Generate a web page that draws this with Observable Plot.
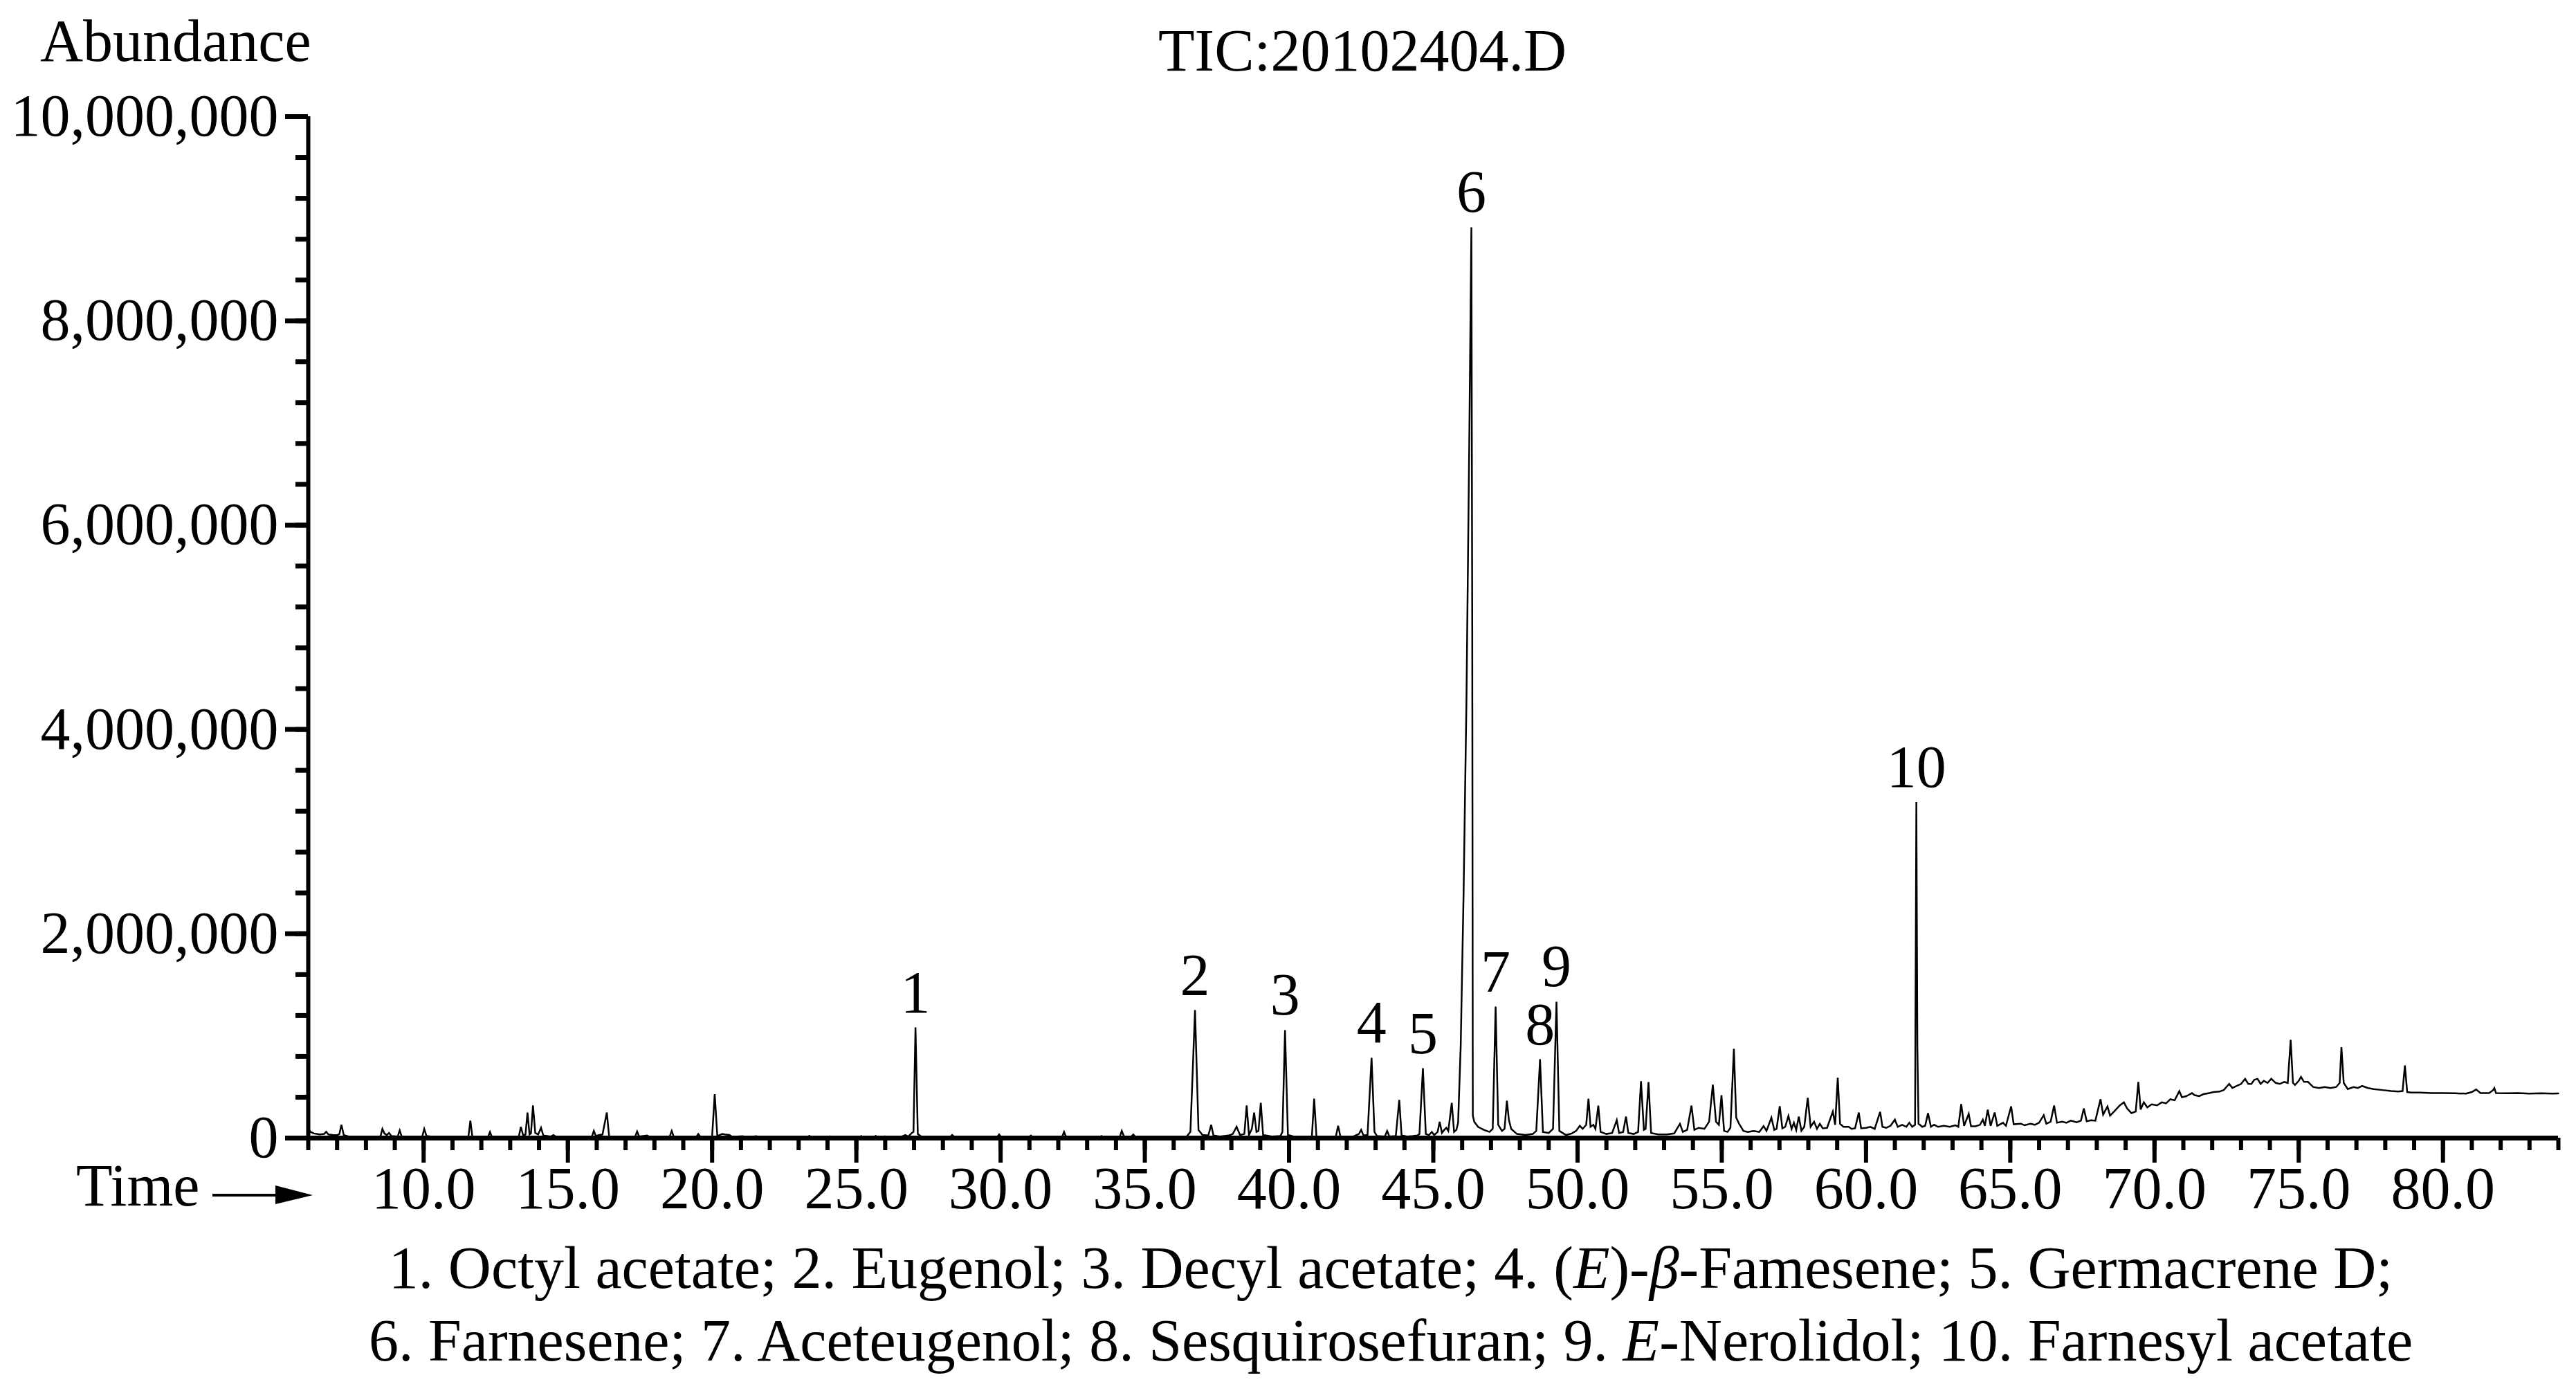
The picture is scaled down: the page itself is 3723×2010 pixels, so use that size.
<!DOCTYPE html>
<html>
<head>
<meta charset="utf-8">
<script src="https://cdn.jsdelivr.net/npm/d3@7"></script>
<script src="https://cdn.jsdelivr.net/npm/@observablehq/plot@0.6"></script>
<style>
  html, body { margin: 0; padding: 0; background: #fff; }
  #page { position: relative; width: 3723px; height: 2010px; overflow: hidden; font-family: "Liberation Serif", "Times New Roman", serif; color: #000; }
  #page svg.plot { position: absolute; left: 0; top: 0; }
  .txt { position: absolute; font-size: 86px; line-height: 86px; white-space: nowrap; }
  .cap { position: absolute; left: 0; width: 4020px; text-align: center; font-size: 86px; line-height: 105px; white-space: nowrap; }
</style>
</head>
<body>
<div id="page">
  <div class="txt" style="left:58px; top:16px;">Abundance</div>
  <div class="txt" style="left:0; width:3938px; text-align:center; top:30px;">TIC:20102404.D</div>
  <div class="txt" style="left:110px; top:1670px;">Time</div>
  <svg style="position:absolute; left:300px; top:1700px;" width="160" height="60">
    <line x1="7" y1="27" x2="100" y2="27" stroke="#000" stroke-width="4"/>
    <polygon points="98,13 152,27 98,40" fill="#000"/>
  </svg>
  <div class="cap" style="top:1780px;">
    1. Octyl acetate; 2. Eugenol; 3. Decyl acetate; 4. (<i>E</i>)-<i>β</i>-Famesene; 5. Germacrene D;<br>
    6. Farnesene; 7. Aceteugenol; 8. Sesquirosefuran; 9. <i>E</i>-Nerolidol; 10. Farnesyl acetate
  </div>
</div>
<script>
// ---- Data: [retention time (min), abundance] ----
const traceEarly = [
  [6.00, 95000], [6.08, 60000], [6.2, 45000], [6.4, 35000], [6.55, 40000], [6.62, 62000], [6.7, 35000],
  [6.85, 30000], [7.0, 28000], [7.08, 40000], [7.15, 130000], [7.23, 30000], [7.4, 15000], [7.7, 12000],
  [8.1, 10000], [8.5, 12000], [8.57, 90000], [8.64, 45000], [8.72, 30000], [8.8, 50000], [8.88, 20000],
  [9.1, 15000], [9.17, 75000], [9.24, 15000], [9.6, 10000], [9.95, 12000], [10.02, 90000], [10.1, 20000],
  [10.4, 10000], [11.0, 8000], [11.55, 10000], [11.62, 170000], [11.69, 10000], [12.23, 8000], [12.3, 60000],
  [12.37, 8000], [13.0, 10000], [13.3, 15000], [13.37, 110000], [13.45, 25000], [13.53, 35000], [13.6, 250000],
  [13.67, 35000], [13.72, 45000], [13.79, 320000], [13.87, 50000], [13.97, 35000], [14.07, 100000], [14.15, 25000],
  [14.4, 15000], [14.5, 30000], [14.6, 12000], [15.3, 8000], [15.83, 12000], [15.9, 70000], [15.97, 20000],
  [16.1, 30000], [16.2, 35000], [16.35, 250000], [16.43, 15000], [16.9, 10000], [17.33, 12000], [17.4, 65000],
  [17.47, 15000], [17.75, 25000], [17.85, 10000], [18.2, 12000], [18.53, 15000], [18.6, 70000], [18.67, 12000],
  [19.0, 10000], [19.45, 10000], [19.52, 40000], [19.6, 10000], [20.0, 15000], [20.09, 430000], [20.18, 20000],
  [20.35, 40000], [20.44, 35000], [20.6, 30000], [20.7, 12000], [21.06, 18000], [21.15, 8000], [21.54, 18000],
  [21.62, 8000], [23.3, 8000], [23.37, 22000], [23.45, 8000], [24.03, 8000], [24.09, 18000], [24.16, 8000],
  [25.12, 8000], [25.17, 20000], [25.24, 8000], [25.62, 8000], [25.67, 22000], [25.74, 8000], [25.92, 8000],
  [25.98, 18000], [26.05, 8000], [26.55, 12000], [26.7, 30000], [26.8, 15000], [26.92, 50000], [26.98, 60000],
  [27.05, 1084000], [27.13, 40000], [27.25, 15000]
];
const traceMid = [
  [27.4, 10000], [28.0, 8000], [28.25, 10000], [28.32, 30000], [28.4, 10000], [29.88, 10000], [29.95, 35000],
  [30.02, 10000], [30.98, 8000], [31.05, 25000], [31.12, 8000], [32.13, 10000], [32.2, 60000], [32.27, 10000],
  [33.43, 8000], [33.5, 20000], [33.57, 8000], [34.13, 10000], [34.2, 70000], [34.28, 15000], [34.52, 12000],
  [34.6, 35000], [34.68, 10000], [35.5, 6000], [36.2, 8000], [36.45, 15000], [36.58, 60000], [36.74, 1253000],
  [36.86, 80000], [37.0, 30000], [37.2, 25000], [37.3, 130000], [37.38, 25000], [37.6, 15000], [37.9, 25000],
  [38.05, 40000], [38.18, 110000], [38.3, 30000], [38.45, 40000], [38.53, 320000], [38.61, 30000], [38.71, 90000],
  [38.79, 250000], [38.87, 60000], [38.94, 70000], [39.02, 345000], [39.1, 30000], [39.4, 15000], [39.7, 20000],
  [39.77, 60000], [39.86, 1057000], [39.96, 30000], [40.2, 12000], [40.5, 8000], [40.79, 12000], [40.87, 386000],
  [40.95, 12000], [41.3, 8000], [41.62, 12000], [41.7, 120000], [41.78, 15000], [42.2, 12000], [42.42, 40000],
  [42.5, 80000], [42.58, 25000], [42.72, 30000], [42.86, 786000], [42.96, 60000], [43.05, 20000], [43.32, 15000],
  [43.4, 70000], [43.48, 15000], [43.7, 20000], [43.82, 373000], [43.9, 25000], [44.1, 15000], [44.3, 20000],
  [44.45, 25000], [44.52, 40000], [44.64, 684000], [44.74, 40000], [44.85, 30000], [44.95, 60000], [45.03, 30000],
  [45.15, 60000], [45.22, 160000], [45.3, 50000], [45.38, 80000], [45.45, 100000], [45.52, 70000], [45.64, 345000],
  [45.72, 60000], [45.8, 80000]
];
const traceMain = [
  [45.86, 150000], [45.95, 900000], [46.05, 2400000], [46.15, 4300000], [46.25, 6900000], [46.32, 8916000],
  [46.35, 5000000], [46.37, 220000], [46.42, 160000], [46.55, 110000], [46.75, 80000], [46.95, 60000],
  [47.06, 90000], [47.16, 1287000], [47.25, 130000], [47.38, 70000], [47.47, 90000], [47.55, 366000],
  [47.62, 180000], [47.7, 90000], [47.9, 40000], [48.2, 30000], [48.45, 40000], [48.57, 70000], [48.7, 772000],
  [48.8, 60000], [49.0, 50000], [49.15, 90000], [49.27, 1335000], [49.37, 70000], [49.6, 30000], [49.8, 45000],
  [49.95, 70000], [50.08, 120000], [50.18, 90000], [50.3, 130000], [50.38, 386000], [50.45, 110000], [50.55, 130000],
  [50.62, 90000], [50.72, 318000], [50.8, 60000], [51.0, 40000], [51.2, 50000], [51.36, 176000], [51.44, 50000],
  [51.58, 60000], [51.68, 210000], [51.76, 50000], [51.95, 40000], [52.1, 60000], [52.2, 556000], [52.3, 80000],
  [52.36, 90000], [52.46, 549000], [52.55, 50000], [52.8, 35000], [53.1, 35000], [53.35, 45000], [53.55, 140000],
  [53.65, 60000], [53.8, 80000], [53.95, 318000], [54.05, 80000], [54.2, 100000], [54.4, 90000], [54.56, 160000],
  [54.69, 522000], [54.8, 160000], [54.9, 130000], [54.99, 420000], [55.08, 70000], [55.2, 60000], [55.3, 100000],
  [55.42, 874000], [55.5, 200000], [55.6, 140000], [55.75, 70000], [55.9, 60000], [56.1, 70000], [56.3, 60000],
  [56.45, 117000], [56.55, 70000], [56.72, 200000], [56.82, 80000], [56.9, 90000], [57.01, 312000], [57.1, 95000],
  [57.2, 110000], [57.31, 217000], [57.42, 90000], [57.5, 150000], [57.58, 80000], [57.67, 210000], [57.76, 72000],
  [57.86, 110000], [57.98, 393000], [58.08, 110000], [58.2, 160000], [58.3, 90000], [58.4, 140000], [58.5, 95000],
  [58.65, 100000], [58.85, 260000], [58.93, 130000], [59.02, 590000], [59.1, 140000], [59.22, 110000], [59.4, 110000],
  [59.5, 90000], [59.62, 95000], [59.75, 250000], [59.83, 95000], [60.0, 100000], [60.15, 110000], [60.3, 90000],
  [60.49, 257000], [60.57, 110000], [60.7, 100000], [60.85, 120000], [61.0, 180000], [61.1, 110000], [61.25, 130000],
  [61.4, 110000], [61.5, 150000], [61.6, 110000], [61.7, 130000], [61.745, 3290000], [61.78, 900000], [61.82, 140000],
  [61.95, 110000]
];
const traceLate = [
  [62.05, 120000], [62.15, 244000], [62.25, 110000], [62.36, 130000], [62.5, 110000], [62.7, 120000], [62.9, 110000],
  [63.1, 125000], [63.2, 110000], [63.3, 332000], [63.4, 120000], [63.56, 237000], [63.64, 115000], [63.8, 115000],
  [63.95, 130000], [64.05, 180000], [64.12, 120000], [64.22, 278000], [64.32, 120000], [64.46, 250000], [64.55, 120000],
  [64.75, 150000], [64.85, 120000], [65.03, 310000], [65.12, 135000], [65.37, 140000], [65.5, 125000], [65.7, 140000],
  [65.85, 130000], [66.0, 150000], [66.16, 224000], [66.25, 140000], [66.4, 160000], [66.52, 318000], [66.62, 150000],
  [66.8, 160000], [66.95, 150000], [67.1, 170000], [67.3, 155000], [67.45, 170000], [67.55, 290000], [67.65, 165000],
  [67.8, 175000], [67.95, 170000], [68.13, 380000], [68.22, 230000], [68.37, 310000], [68.46, 220000], [68.6, 260000],
  [68.8, 320000], [68.94, 350000], [69.05, 290000], [69.2, 244000], [69.35, 260000], [69.44, 550000], [69.52, 280000],
  [69.63, 350000], [69.75, 300000], [69.9, 330000], [70.09, 320000], [70.25, 350000], [70.4, 340000], [70.55, 380000],
  [70.7, 370000], [70.86, 460000], [70.95, 400000], [71.1, 410000], [71.17, 420000], [71.3, 440000], [71.39, 420000],
  [71.55, 410000], [71.7, 430000], [71.9, 440000], [72.05, 450000], [72.25, 455000], [72.4, 470000], [72.59, 530000],
  [72.7, 490000], [72.85, 510000], [73.0, 530000], [73.14, 580000], [73.25, 530000], [73.36, 530000], [73.46, 570000],
  [73.57, 580000], [73.68, 530000], [73.79, 560000], [73.92, 540000], [74.05, 580000], [74.2, 540000], [74.34, 530000],
  [74.5, 550000], [74.62, 540000], [74.72, 962000], [74.8, 540000], [74.87, 520000], [75.0, 560000], [75.08, 600000],
  [75.18, 550000], [75.32, 550000], [75.5, 500000], [75.7, 490000], [75.9, 500000], [76.1, 490000], [76.3, 500000],
  [76.42, 540000], [76.48, 890000], [76.56, 540000], [76.7, 480000], [76.9, 500000], [77.05, 490000], [77.2, 510000],
  [77.4, 490000], [77.6, 480000], [77.9, 470000], [78.2, 460000], [78.45, 455000], [78.6, 460000], [78.68, 710000],
  [78.76, 450000], [78.9, 445000], [79.2, 445000], [79.6, 440000], [80.0, 440000], [80.4, 438000], [80.8, 435000],
  [81.0, 450000], [81.15, 475000], [81.3, 440000], [81.6, 440000], [81.74, 470000], [81.78, 490000], [81.84, 440000],
  [82.2, 438000], [82.6, 440000], [83.0, 436000], [83.4, 438000], [83.8, 435000], [84.0, 437000]
];

// Labelled peaks
const peakNumbers = ["1", "2", "3", "4", "5", "6", "7", "8", "9", "10"];
const peakTimes   = [27.05, 36.74, 39.86, 42.86, 44.64, 46.32, 47.16, 48.70, 49.27, 61.745];
const peakHeights = [1084000, 1253000, 1057000, 786000, 684000, 8916000, 1287000, 772000, 1335000, 3290000];

// Axis ticks
const yMajorTicks = [0, 2000000, 4000000, 6000000, 8000000, 10000000];
const yMinorTicks = [400000, 800000, 1200000, 1600000, 2000000, 2400000, 2800000, 3200000, 3600000, 4000000,
  4400000, 4800000, 5200000, 5600000, 6000000, 6400000, 6800000, 7200000, 7600000, 8000000, 8400000, 8800000,
  9200000, 9600000, 10000000];
const xMajorTicks = [10, 15, 20, 25, 30, 35, 40, 45, 50, 55, 60, 65, 70, 75, 80];
const xMinorTicks = d3.range(6, 85, 1);

const trace = [...traceEarly, ...traceMid, ...traceMain, ...traceLate];
const peaks = peakNumbers.map((n, i) => ({label: n, t: peakTimes[i], a: peakHeights[i]}));

const chart = Plot.plot({
  width: 3723,
  height: 2010,
  marginLeft: 445,
  marginRight: 26,
  marginTop: 168,
  marginBottom: 366,
  x: {domain: [6, 84], label: null},
  y: {domain: [0, 10000000], label: null},
  style: {fontFamily: "Liberation Serif, Times New Roman, serif", background: "white", color: "black", overflow: "visible"},
  marks: [
    Plot.axisY({ticks: yMinorTicks, tickSize: 18, tickFormat: () => "", strokeWidth: 7, label: null}),
    Plot.axisY({ticks: yMajorTicks, tickSize: 33, tickPadding: 10, tickFormat: d3.format(","), strokeWidth: 7, fontSize: 86, label: null}),
    Plot.axisX({ticks: xMinorTicks, tickSize: 18, tickFormat: () => "", strokeWidth: 6, label: null}),
    Plot.axisX({ticks: xMajorTicks, tickSize: 36, tickPadding: 4, tickFormat: d => d.toFixed(1), strokeWidth: 6, fontSize: 86, label: null}),
    Plot.line(trace, {x: d => d[0], y: d => d[1], stroke: "black", strokeWidth: 2.5, strokeLinejoin: "miter", strokeMiterlimit: 4}),
    Plot.ruleX([6], {stroke: "black", strokeWidth: 6}),
    Plot.ruleY([0], {stroke: "black", strokeWidth: 7}),
    Plot.text(peaks, {x: "t", y: "a", text: "label", lineAnchor: "bottom", dy: -22, fontSize: 86, fill: "black"})
  ]
});
document.getElementById("page").appendChild(chart);
</script>
</body>
</html>
